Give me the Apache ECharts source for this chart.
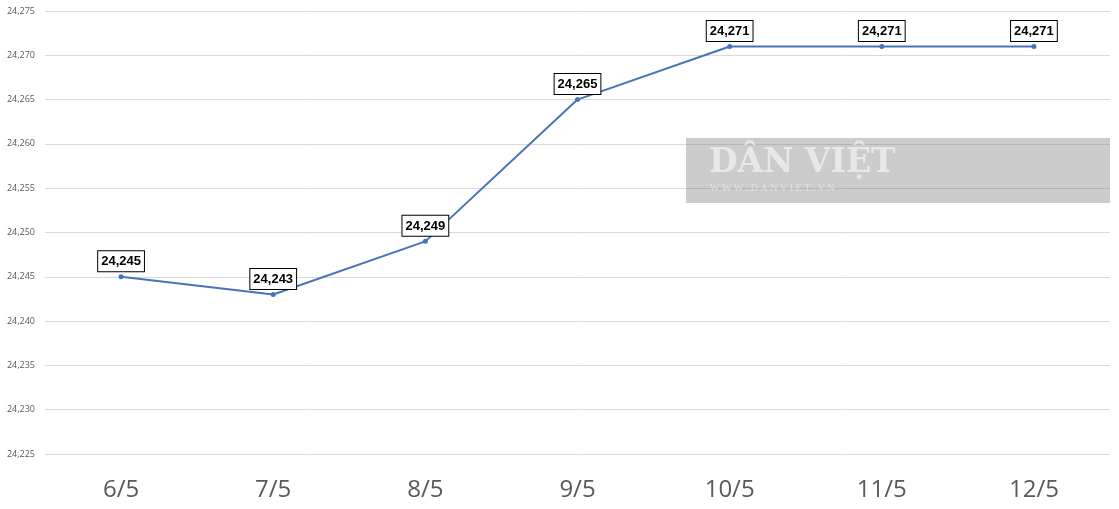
<!DOCTYPE html>
<html><head><meta charset="utf-8">
<script src="https://cdn.jsdelivr.net/npm/echarts@6/dist/echarts.min.js"></script>
<style>html,body{margin:0;padding:0;background:#fff}#c{width:1119px;height:509px}</style>
</head><body><div id="c"></div>
<script>
const categories = ['6/5','7/5','8/5','9/5','10/5','11/5','12/5'];
const rates = [24245, 24243, 24249, 24265, 24271, 24271, 24271];
const yMin = 24225, yMax = 24275, yStep = 5;

const chart = echarts.init(document.getElementById('c'));
const fmt = v => String(v).replace(/\B(?=(\d{3})+(?!\d))/g, ',');
chart.setOption({
  animation: false,
  backgroundColor: '#ffffff',
  grid: {left: 45, right: 9, top: 11, bottom: 55, containLabel: false},
  xAxis: {
    type: 'category', data: categories, boundaryGap: true,
    axisLine: {show: false}, axisTick: {show: false},
    axisLabel: {fontSize: 24, color: '#595959', margin: 24, fontFamily: 'Open Sans, Noto Sans, sans-serif'}
  },
  yAxis: {
    type: 'value', min: yMin, max: yMax, interval: yStep,
    axisLine: {show: false}, axisTick: {show: false},
    axisLabel: {fontSize: 9, color: '#595959', margin: 10, formatter: fmt, fontFamily: 'Open Sans, Noto Sans, sans-serif'},
    splitLine: {lineStyle: {color: '#d9d9d9', width: 1}}
  },
  series: [{
    type: 'line', data: rates,
    symbol: 'circle', symbolSize: 5,
    lineStyle: {color: '#4a72b8', width: 2},
    itemStyle: {color: '#4a72b8'},
    label: {
      show: true, position: 'top', distance: 3,
      formatter: p => fmt(p.value),
      fontSize: 13, fontWeight: 'bold', color: '#000',
      fontFamily: 'Liberation Sans, Arial, sans-serif',
      backgroundColor: '#fff', borderColor: '#000', borderWidth: 1,
      padding: [4, 3, 3, 3]
    },
    z: 3
  }],
  graphic: [
    {type: 'rect', left: 686, top: 138, shape: {width: 424, height: 65}, style: {fill: 'rgba(128,128,128,0.4)'}, z: 10},
    {type: 'text', left: 709, top: 147, style: {text: 'DÂN VIỆT', fill: 'rgba(255,255,255,0.55)', font: 'bold 33px "DejaVu Serif", "Liberation Serif", serif'}, z: 11},
    {type: 'text', left: 710, top: 183, style: {text: 'W W W . D A N V I E T . V N', fill: 'rgba(255,255,255,0.45)', font: '10px "Liberation Serif", serif'}, z: 11}
  ]
});
</script></body></html>
